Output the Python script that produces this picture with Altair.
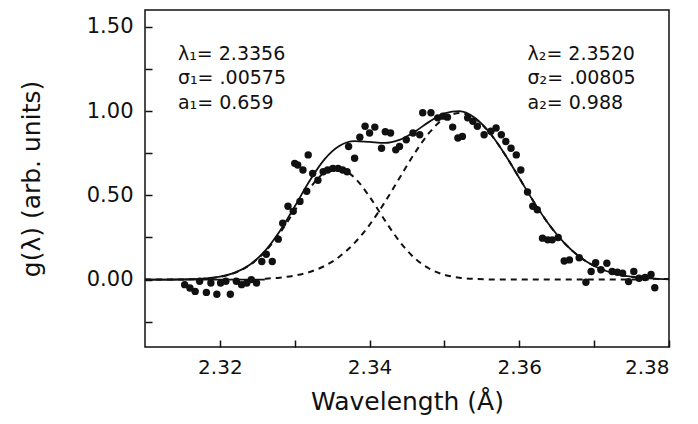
import altair as alt
import pandas as pd

# Observed points (wavelength in Å, g(λ))
x_obs = [2.3153, 2.3160, 2.3167, 2.3173, 2.3182, 2.3188, 2.3196, 2.3201, 2.3208, 2.3214,
         2.3222, 2.3229, 2.3236, 2.3242, 2.3249, 2.3256, 2.3262, 2.3270, 2.3278, 2.3284,
         2.3291, 2.3298, 2.3307, 2.3316, 2.3300, 2.3304, 2.3311, 2.3318, 2.3324, 2.3331,
         2.3338, 2.3344, 2.3351, 2.3358, 2.3364, 2.3370, 2.3372, 2.3380, 2.3387, 2.3394,
         2.3400, 2.3407, 2.3416, 2.3421, 2.3428, 2.3435, 2.3440, 2.3449, 2.3458, 2.3467,
         2.3471, 2.3482, 2.3491, 2.3498, 2.3504, 2.3511, 2.3518, 2.3524, 2.3531, 2.3538,
         2.3544, 2.3553, 2.3562, 2.3569, 2.3576, 2.3582, 2.3589, 2.3596, 2.3602, 2.3611,
         2.3618, 2.3624, 2.3631, 2.3638, 2.3644, 2.3652, 2.3660, 2.3667, 2.3680, 2.3689,
         2.3696, 2.3702, 2.3709, 2.3717, 2.3724, 2.3731, 2.3738, 2.3746, 2.3753, 2.3760,
         2.3768, 2.3776, 2.3781]
y_obs = [-0.03, -0.05, -0.07, -0.01, -0.076, -0.02, -0.087, -0.02, -0.01, -0.087,
         -0.01, -0.03, -0.02, 0.00, -0.02, 0.107, 0.15, 0.107, 0.24, 0.335,
         0.435, 0.405, 0.464, 0.524, 0.69, 0.68, 0.65, 0.74, 0.63, 0.59,
         0.64, 0.65, 0.66, 0.66, 0.65, 0.64, 0.79, 0.72, 0.845, 0.91,
         0.87, 0.905, 0.78, 0.877, 0.87, 0.77, 0.79, 0.83, 0.87, 0.86,
         0.99, 0.99, 0.96, 0.97, 0.964, 0.905, 0.84, 0.85, 0.96, 0.94,
         0.91, 0.86, 0.88, 0.90, 0.86, 0.82, 0.78, 0.74, 0.65, 0.52,
         0.435, 0.415, 0.246, 0.236, 0.236, 0.25, 0.11, 0.117, 0.13, -0.016,
         0.048, 0.10, 0.058, 0.097, 0.048, 0.044, 0.038, -0.012, 0.048, 0.008,
         0.012, 0.03, -0.048]

# Fitted curves
x_fit = [2.310, 2.312, 2.314, 2.316, 2.318, 2.320, 2.322, 2.324, 2.326, 2.328,
         2.330, 2.332, 2.334, 2.336, 2.338, 2.340, 2.342, 2.344, 2.346, 2.348,
         2.350, 2.352, 2.354, 2.356, 2.358, 2.360, 2.362, 2.364, 2.366, 2.368,
         2.370, 2.372, 2.374, 2.376, 2.378, 2.380]
y_total = [0.0000, 0.0001, 0.0006, 0.0020, 0.0062, 0.0170, 0.0412, 0.0884, 0.1689, 0.2867,
           0.4337, 0.5868, 0.7151, 0.7945, 0.8218, 0.8169, 0.8115, 0.8297, 0.8768, 0.9376,
           0.9866, 0.9993, 0.9619, 0.8744, 0.7487, 0.6031, 0.4568, 0.3252, 0.2178, 0.1371,
           0.0811, 0.0451, 0.0236, 0.0116, 0.0054, 0.0023]
y_comp1 = [0.0000, 0.0001, 0.0006, 0.0020, 0.0061, 0.0166, 0.0402, 0.0861, 0.1635, 0.2751,
           0.4101, 0.5417, 0.6340, 0.6574, 0.6040, 0.4917, 0.3547, 0.2267, 0.1284, 0.0644,
           0.0286, 0.0113, 0.0039, 0.0012, 0.0003, 0.0001, 0.0, 0.0, 0.0, 0.0,
           0.0, 0.0, 0.0, 0.0, 0.0, 0.0]
y_comp2 = [0.0, 0.0, 0.0, 0.0000, 0.0001, 0.0004, 0.0010, 0.0023, 0.0054, 0.0116,
           0.0236, 0.0451, 0.0811, 0.1371, 0.2178, 0.3252, 0.4568, 0.6030, 0.7484, 0.8732,
           0.9580, 0.9880, 0.9580, 0.8732, 0.7484, 0.6030, 0.4568, 0.3252, 0.2178, 0.1371,
           0.0811, 0.0451, 0.0236, 0.0116, 0.0054, 0.0023]

# Zero baseline segment (solid, left part)
x_base = [2.310, 2.326]
y_base = [0.0, 0.0]

# Axis ticks
x_ticks = [2.32, 2.33, 2.34, 2.35, 2.36, 2.37, 2.38]
y_ticks = [-0.25, 0.0, 0.25, 0.5, 0.75, 1.0, 1.25, 1.5]

# Annotations
ann_x = [2.3144, 2.3144, 2.3144, 2.3611, 2.3611, 2.3611]
ann_y = [1.339, 1.196, 1.048, 1.339, 1.196, 1.048]
ann_text = ["λ₁= 2.3356", "σ₁= .00575", "a₁= 0.659",
            "λ₂= 2.3520", "σ₂= .00805", "a₂= 0.988"]

FONT = "DejaVu Sans"
INK = "#111111"

obs = pd.DataFrame({"x": x_obs, "y": y_obs})
fit = pd.DataFrame({"x": x_fit, "total": y_total, "c1": y_comp1, "c2": y_comp2})
base = pd.DataFrame({"x": x_base, "y": y_base})
ann = pd.DataFrame({"x": ann_x, "y": ann_y, "t": ann_text})

xscale = alt.Scale(domain=[2.31, 2.38], nice=False, zero=False)
yscale = alt.Scale(domain=[-0.4, 1.6], nice=False, zero=False)

xaxis = alt.Axis(
    values=x_ticks, offset=-7, tickSize=7, domain=False, grid=False,
    tickColor=INK, tickWidth=1.5,
    labelExpr="round(datum.value*100) % 2 == 0 ? format(datum.value, '.2f') : ''",
    labelFontSize=20, labelFont=FONT, labelColor=INK, labelPadding=10,
    title="Wavelength (Å)", titleFontSize=25, titleFont=FONT, titleColor=INK,
    titleFontWeight="normal", titlePadding=12,
)
yaxis = alt.Axis(
    values=y_ticks, offset=-7, tickSize=7, domain=False, grid=False,
    tickColor=INK, tickWidth=1.5,
    labelExpr="datum.value % 0.5 == 0 ? format(datum.value, '.2f') : ''",
    labelFontSize=21, labelFont=FONT, labelColor=INK, labelPadding=12,
    title="g(λ) (arb. units)", titleFontSize=25, titleFont=FONT, titleColor=INK,
    titleFontWeight="normal", titlePadding=42,
)

X = alt.X("x:Q", scale=xscale, axis=xaxis)
Y = alt.Y("y:Q", scale=yscale, axis=yaxis)

pts = alt.Chart(obs).mark_circle(size=55, color=INK, opacity=1).encode(x=X, y=Y)

total = alt.Chart(fit).mark_line(color=INK, strokeWidth=1.8, interpolate="monotone").encode(
    x=alt.X("x:Q", scale=xscale), y=alt.Y("total:Q", scale=yscale))
comp1 = alt.Chart(fit).transform_filter("datum.x <= 2.3781").mark_line(
    color=INK, strokeWidth=2, strokeDash=[6, 5], interpolate="monotone").encode(
    x=alt.X("x:Q", scale=xscale), y=alt.Y("c1:Q", scale=yscale))
comp2 = alt.Chart(fit).transform_filter("datum.x >= 2.3259").mark_line(
    color=INK, strokeWidth=2, strokeDash=[6, 5], interpolate="monotone").encode(
    x=alt.X("x:Q", scale=xscale), y=alt.Y("c2:Q", scale=yscale))
baseline = alt.Chart(base).mark_line(color=INK, strokeWidth=1.8).encode(
    x=alt.X("x:Q", scale=xscale), y=alt.Y("y:Q", scale=yscale))

text = alt.Chart(ann).mark_text(
    align="left", baseline="middle", font=FONT, fontSize=19, color=INK).encode(
    x=alt.X("x:Q", scale=xscale), y=alt.Y("y:Q", scale=yscale), text="t:N")

chart = alt.layer(pts, total, comp1, comp2, baseline, text).properties(
    width=524, height=337,
    autosize=alt.AutoSizeParams(type="none"),
    padding={"left": 137, "top": 2, "right": 21, "bottom": 69},
    background="white",
).configure_view(stroke=INK, strokeWidth=1.5)

chart.save("out.html", embed_options={"renderer": "svg", "actions": False})
